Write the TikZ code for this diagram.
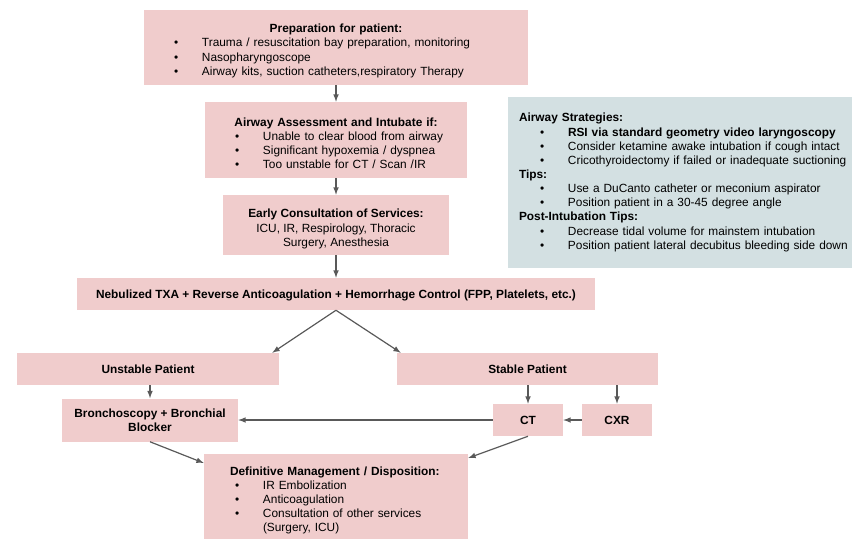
\documentclass[tikz,border=0pt]{standalone}
\usepackage{fontspec}
\setmainfont{Liberation Sans}
\newlength{\pix}\setlength{\pix}{0.75pt}
\newcommand{\bul}[1]{\par\hspace*{30\pix}\makebox[28\pix][l]{\textbullet}#1}
\definecolor{boxpink}{HTML}{F0CCCC}
\definecolor{boxcyan}{HTML}{D3E0E2}
\definecolor{arrowgray}{HTML}{595959}

\begin{document}
\begin{tikzpicture}[
  x=0.75pt,y=-0.75pt,
  box/.style={fill=boxpink,inner sep=0pt,
    font=\fontsize{8.9}{10.6}\selectfont},
  listbox/.style={box,align=left,text width=#1*\pix,minimum width=#1*\pix,
    execute at begin node=\setlength{\parindent}{0pt}},
  flow/.style={every edge/.style={draw,-latex,arrowgray,line width=0.9pt}}
  ]
  \useasboundingbox (0,0) rectangle (861,539);

  \node[listbox=384,minimum height=75*\pix] (NPrep) at (336,47.5) {
    \centerline{\rule{0pt}{11.5pt}\textbf{Preparation for patient:}}
    \bul{Trauma / resuscitation bay preparation, monitoring}
    \bul{Nasopharyngoscope}
    \bul{Airway kits, suction catheters,respiratory Therapy}};
  \node[listbox=262,minimum height=76*\pix] (NAssess) at (336,140) {
    \centerline{\rule{0pt}{11.5pt}\textbf{Airway Assessment and Intubate if:}}
    \bul{Unable to clear blood from airway}
    \bul{Significant hypoxemia / dyspnea}
    \bul{Too unstable for CT / Scan /IR}};
  \node[box,align=center,minimum width=226*\pix,minimum height=60*\pix] (NConsult) at (336,225) {
    \rule{0pt}{12.5pt}\textbf{Early Consultation of Services:}\\
    ICU, IR, Respirology, Thoracic\\
    Surgery, Anesthesia};
  \node[box,minimum width=518*\pix,minimum height=32*\pix] (NTxa) at (336,294)
    {\rule{0pt}{9pt}\textbf{Nebulized TXA + Reverse Anticoagulation + Hemorrhage Control (FPP, Platelets, etc.)}};

  \node[box,minimum width=262*\pix,minimum height=32*\pix] (NUnstable) at (148,369) {\textbf{Unstable Patient}};
  \node[box,minimum width=261*\pix,minimum height=32*\pix] (NStable) at (527.5,369) {\textbf{Stable Patient}};
  \node[box,align=center,minimum width=176*\pix,minimum height=43*\pix] (NBronch) at (150,420)
    {\textbf{Bronchoscopy + Bronchial}\\\textbf{Blocker}};
  \node[box,minimum width=70*\pix,minimum height=32*\pix] (NCt) at (528,420) {\textbf{CT}};
  \node[box,minimum width=70*\pix,minimum height=32*\pix] (NCxr) at (617,420) {\textbf{CXR}};

  \node[listbox=262,inner xsep=1*\pix,minimum height=92*\pix,anchor=north] (NDef) at (336,454) {
    \hspace*{25\pix}\textbf{Definitive Management / Disposition:}
    \bul{IR Embolization}
    \bul{Anticoagulation}
    \bul{Consultation of other services}
    \par\hspace*{58\pix}(Surgery, ICU)};

  \node[listbox=340,inner xsep=2*\pix,minimum width=344*\pix,minimum height=171*\pix,fill=boxcyan] (NTips) at (680,182.5) {
    \hspace*{9\pix}\textbf{Airway Strategies:}
    \bul{\textbf{RSI via standard geometry video laryngoscopy}}
    \bul{Consider ketamine awake intubation if cough intact}
    \bul{Cricothyroidectomy if failed or inadequate suctioning}
    \par\hspace*{9\pix}\textbf{Tips:}
    \bul{Use a DuCanto catheter or meconium aspirator}
    \bul{Position patient in a 30-45 degree angle}
    \par\hspace*{9\pix}\textbf{Post-Intubation Tips:}
    \bul{Decrease tidal volume for mainstem intubation}
    \bul{Position patient lateral decubitus bleeding side down}};

  \path[flow]
  (NPrep)                    edge (NAssess)
  (NAssess)                  edge (NConsult)
  (NConsult)                 edge (NTxa)
  (NTxa.south)               edge ([xshift=-7\pix]NUnstable.north east)
  (NTxa.south)               edge ([xshift=4\pix]NStable.north west)
  (NBronch.north |- NUnstable.south) edge (NBronch.north)
  (NCt.north |- NStable.south)       edge (NCt.north)
  (NCxr.north |- NStable.south)      edge (NCxr.north)
  (NCxr)                     edge (NCt)
  (NCt)                      edge (NBronch)
  (NBronch.south)            edge ([yshift=-9\pix]NDef.north west)
  (NCt.south)                edge ([yshift=-4\pix]NDef.north east)
  ;
\end{tikzpicture}
\end{document}
